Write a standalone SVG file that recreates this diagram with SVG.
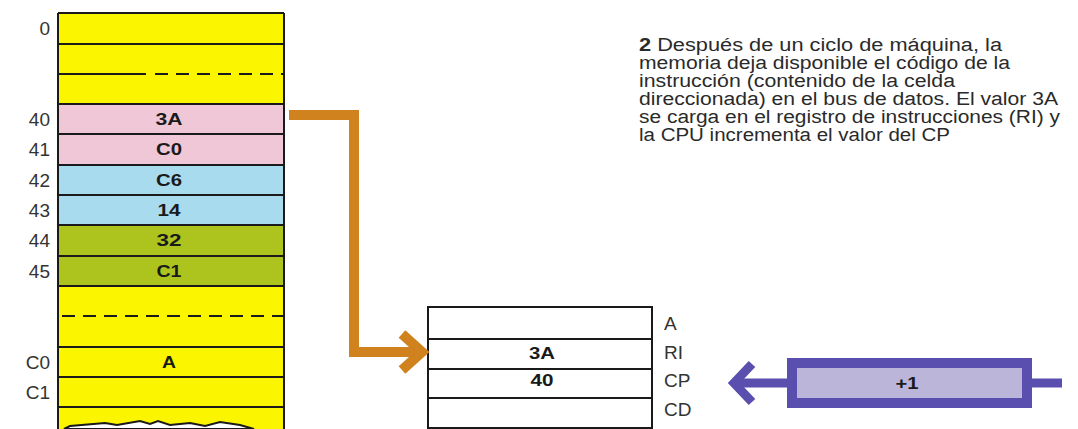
<svg xmlns="http://www.w3.org/2000/svg" width="1078" height="429" viewBox="0 0 1078 429">
<style>
.lbl{font-family:"Liberation Sans",Arial,sans-serif;font-size:19px;fill:#333;}
.cell{font-family:"Liberation Sans",Arial,sans-serif;font-size:17px;font-weight:bold;fill:#1a1a1a;text-anchor:middle;}
.para{font-family:"Liberation Sans",Arial,sans-serif;font-size:18px;fill:#2a2a2a;}
.ln{stroke:#1a1a1a;stroke-width:2;fill:none;}
.dash{stroke:#1a1a1a;stroke-width:2;stroke-dasharray:13 8;fill:none;}
.orange{stroke:#d0821f;stroke-width:10;fill:none;stroke-linejoin:miter;}
.purple{stroke:#5a4fae;stroke-width:9;fill:none;stroke-linejoin:miter;}
</style>
<rect width="1078" height="429" fill="#ffffff"/>
<g id="memory">
<rect x="58" y="13" width="226" height="91" fill="#fcf500"/>
<rect x="58" y="104" width="226" height="61" fill="#f0c7d6"/>
<rect x="58" y="165" width="226" height="60" fill="#a8dbee"/>
<rect x="58" y="225" width="226" height="61" fill="#adc41e"/>
<rect x="58" y="286" width="226" height="143" fill="#fcf500"/>
<path class="ln" d="M58 13 H284 M58 44 H284 M58 104 H284 M58 134 H284 M58 165 H284 M58 195 H284 M58 225 H284 M58 256 H284 M58 286 H284 M58 347 H284 M58 377 H284 M58 407 H284 M58 13 V429 M284 13 V429"/>
<path class="ln" d="M58 74 H146"/>
<path class="dash" d="M155 74 H284"/>
<path class="dash" d="M62 316 H284"/>
<path d="M64 429 L70 426 L105 423 L117 425 L140 421 L150 424 L158 421 L170 425 L190 423 L205 426 L220 422 L240 425 L254 429 Z" fill="#ffffff" stroke="#1a1a1a" stroke-width="2"/>
<g class="lbl" text-anchor="end">
<text x="50" y="35">0</text>
<text x="50" y="126">40</text>
<text x="50" y="156">41</text>
<text x="50" y="187">42</text>
<text x="50" y="217">43</text>
<text x="50" y="247">44</text>
<text x="50" y="278">45</text>
<text x="50" y="369">C0</text>
<text x="50" y="399">C1</text>
</g>
<g class="cell">
<text x="169" y="125" textLength="27" lengthAdjust="spacingAndGlyphs">3A</text>
<text x="169" y="155" textLength="26" lengthAdjust="spacingAndGlyphs">C0</text>
<text x="169" y="186" textLength="26" lengthAdjust="spacingAndGlyphs">C6</text>
<text x="169" y="216" textLength="23" lengthAdjust="spacingAndGlyphs">14</text>
<text x="169" y="246" textLength="25" lengthAdjust="spacingAndGlyphs">32</text>
<text x="169" y="277" textLength="25" lengthAdjust="spacingAndGlyphs">C1</text>
<text x="169" y="368" textLength="14" lengthAdjust="spacingAndGlyphs">A</text>
</g>
</g>
<g id="registers">
<rect x="428" y="307" width="224" height="121" fill="#f5f5f2" class="ln"/>
<path class="ln" d="M428 339 H652 M428 369 H652 M428 398 H652"/>
<text class="cell" x="542" y="359" textLength="26" lengthAdjust="spacingAndGlyphs">3A</text>
<text class="cell" x="542" y="386" textLength="23" lengthAdjust="spacingAndGlyphs">40</text>
<g class="lbl">
<text x="664" y="330">A</text>
<text x="664" y="359">RI</text>
<text x="664" y="387">CP</text>
<text x="664" y="416">CD</text>
</g>
</g>
<g id="incrementer">
<rect x="787" y="358" width="245" height="50" fill="#5a4fae"/>
<rect x="797" y="368" width="225" height="30" fill="#bbb5da"/>
<text class="cell" x="907" y="389" textLength="23" lengthAdjust="spacingAndGlyphs">+1</text>
</g>
<g id="connectors">
<path class="orange" d="M289 115 H354 V352 H418"/>
<path class="orange" d="M402 334 L422 352 L402 370"/>
<path class="purple" d="M1032 383 H1062"/>
<path class="purple" d="M787 383 H738"/>
<path class="purple" d="M752 364 L734 383 L752 402"/>
</g>
<g id="caption" class="para">
<text x="639" y="51" textLength="363" lengthAdjust="spacingAndGlyphs"><tspan font-weight="bold">2</tspan> Después de un ciclo de máquina, la</text>
<text x="639" y="69" textLength="371" lengthAdjust="spacingAndGlyphs">memoria deja disponible el código de la</text>
<text x="639" y="87" textLength="316" lengthAdjust="spacingAndGlyphs">instrucción (contenido de la celda</text>
<text x="639" y="105" textLength="419" lengthAdjust="spacingAndGlyphs">direccionada) en el bus de datos. El valor 3A</text>
<text x="639" y="123" textLength="421" lengthAdjust="spacingAndGlyphs">se carga en el registro de instrucciones (RI) y</text>
<text x="639" y="141" textLength="311" lengthAdjust="spacingAndGlyphs">la CPU incrementa el valor del CP</text>
</g>
</svg>
